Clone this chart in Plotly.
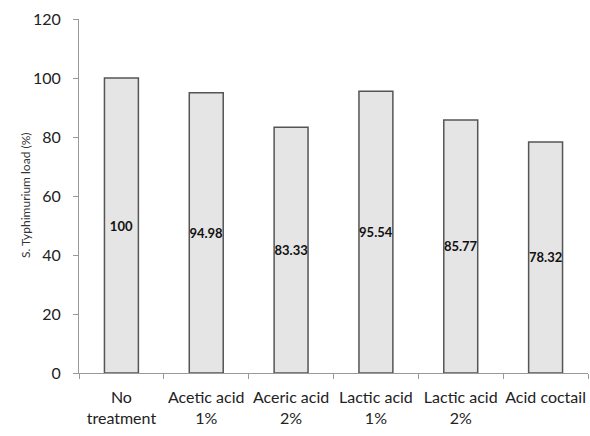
import plotly.graph_objects as go

categories = ["No<br>treatment", "Acetic acid<br>1%", "Aceric acid<br>2%", "Lactic acid<br>1%", "Lactic acid<br>2%", "Acid coctail"]
values = [100, 94.98, 83.33, 95.54, 85.77, 78.32]
labels = ["100", "94.98", "83.33", "95.54", "85.77", "78.32"]
y_title = "S. Typhimurium load (%)"

fig = go.Figure()
fig.add_trace(go.Bar(
    x=categories, y=values, text=labels, textposition="inside",
    insidetextanchor="middle", textangle=0, constraintext="none",
    textfont=dict(family="Lato", size=13, color="#111111", weight="bold"),
    marker=dict(color="#e5e5e5", line=dict(color="#555555", width=1.5)),
    width=0.4,
))
fig.update_layout(
    width=590, height=436,
    margin=dict(l=79, r=2, t=19, b=63),
    paper_bgcolor="white", plot_bgcolor="white",
    font=dict(family="Lato", color="#222222"),
    showlegend=False,
    uniformtext=dict(mode=False),
)
fig.add_annotation(
    text=y_title, xref="paper", yref="paper", x=-54 / 509, y=0.5,
    xanchor="center", yanchor="middle", textangle=-90, showarrow=False,
    font=dict(size=12, color="#333333"),
)
fig.update_yaxes(
    range=[0, 120], tickvals=[0, 20, 40, 60, 80, 100, 120],
    showgrid=False, showline=True, linecolor="#999999", linewidth=1,
    ticks="outside", ticklen=5, tickcolor="#999999", ticklabelstandoff=9,
    tickfont=dict(size=16, color="#222222"),
    zeroline=False, automargin=False,
)
fig.update_xaxes(
    showline=True, linecolor="#999999", linewidth=1, tickangle=0,
    ticks="outside", ticklen=5, tickcolor="#999999", tickson="boundaries",
    tickfont=dict(size=16, color="#222222"), ticklabelstandoff=10,
    showgrid=False, automargin=False,
)
fig.write_html("out.html", config={"displayModeBar": False},
               post_script="document.body.style.margin='0';document.body.style.overflow='hidden';")
